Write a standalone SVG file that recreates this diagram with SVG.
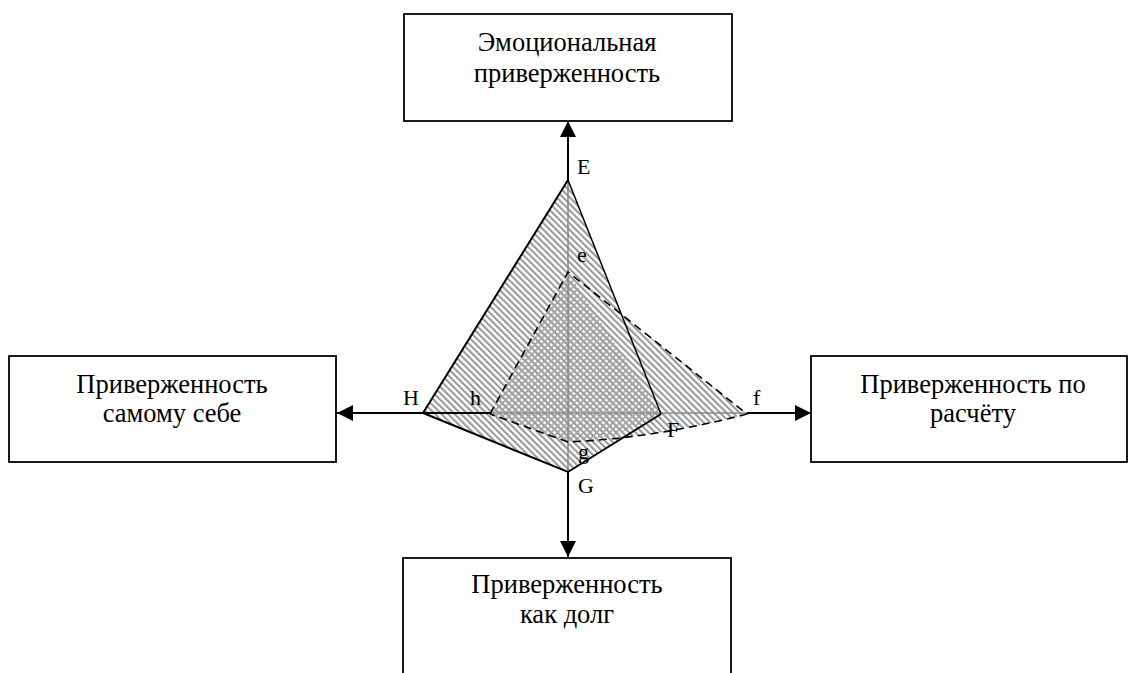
<svg xmlns="http://www.w3.org/2000/svg" width="1129" height="673" viewBox="0 0 1129 673">
<style>
.box{fill:#fff;stroke:#000;stroke-width:1.8}
.t{font-family:"Liberation Serif","DejaVu Serif","Times New Roman",serif;font-size:26.5px;fill:#000;text-anchor:middle}
.lbl{font-family:"Liberation Serif","DejaVu Serif","Times New Roman",serif;font-size:22px;fill:#000}
.ax{stroke:#000;stroke-width:2;fill:none}
.axg{stroke:#8a8a8a;stroke-width:1.6;fill:none}
.edge{stroke:#000;stroke-width:2;fill:none;stroke-linejoin:miter}
.dash{stroke:#000;stroke-width:1.6;fill:none;stroke-dasharray:8 5}
</style>
<defs>
<pattern id="hatchA" patternUnits="userSpaceOnUse" width="4.6" height="4.6" patternTransform="rotate(-45)">
<rect width="4.6" height="4.6" fill="#fff"/>
<rect x="0" y="0" width="2.1" height="4.6" fill="#999"/>
</pattern>
<pattern id="hatchB" patternUnits="userSpaceOnUse" width="4.6" height="4.6" patternTransform="rotate(-45)">
<rect x="0" y="0" width="4.6" height="2" fill="#a0a0a0" fill-opacity="0.85"/>
</pattern>
<marker id="arr" viewBox="0 0 16 16" refX="16" refY="8" markerWidth="16" markerHeight="16" markerUnits="userSpaceOnUse" orient="auto">
<path d="M0,0 L16,8 L0,16 Z" fill="#000"/>
</marker>
</defs>

<g id="node-emotional">
<rect class="box" x="404" y="14" width="328" height="107"/>
<text class="t" x="567" y="51">Эмоциональная</text>
<text class="t" x="567" y="82">приверженность</text>
</g>
<g id="node-self">
<rect class="box" x="9" y="356" width="327" height="106"/>
<text class="t" x="172" y="393">Приверженность</text>
<text class="t" x="172" y="422">самому себе</text>
</g>
<g id="node-calc">
<rect class="box" x="811" y="356" width="316" height="106"/>
<text class="t" x="973" y="393">Приверженность по</text>
<text class="t" x="973" y="422">расчёту</text>
</g>
<g id="node-duty">
<rect class="box" x="403" y="558" width="328" height="130"/>
<text class="t" x="567" y="593">Приверженность</text>
<text class="t" x="567" y="623">как долг</text>
</g>

<g id="chart">
<polygon points="568,180 423,413 568,472 661,414" fill="url(#hatchA)"/>
<path d="M490,414 L568,272 L747,414 Q656,438 568,442 Z" fill="url(#hatchA)"/>
<path d="M568,272 L616,345 L661,414 L614,436 L568,442 L490,414 Z" fill="url(#hatchB)"/>
<line class="axg" x1="568" y1="180" x2="568" y2="472"/>
<line class="axg" x1="490" y1="413" x2="747" y2="413"/>
<path class="edge" d="M661,414 L568,180" style="stroke-width:1.5"/>
<path class="edge" d="M568,180 L423,413 L568,472 L661,414"/>
<path class="dash" d="M490,414 L568,272 L747,414 Q656,438 568,442 L490,414"/>
</g>

<g id="connectors">
<line class="ax" x1="568" y1="180" x2="568" y2="121" marker-end="url(#arr)"/>
<line class="ax" x1="423" y1="413" x2="337" y2="413" marker-end="url(#arr)"/>
<line class="ax" x1="423" y1="413" x2="490" y2="413"/>
<line class="ax" x1="747" y1="413" x2="811" y2="413" marker-end="url(#arr)"/>
<line class="ax" x1="568" y1="472" x2="568" y2="557" marker-end="url(#arr)"/>
</g>

<g id="labels">
<text class="lbl" x="577" y="174">E</text>
<text class="lbl" x="577" y="262">e</text>
<text class="lbl" x="403" y="405">H</text>
<text class="lbl" x="470" y="405">h</text>
<text class="lbl" x="753" y="405">f</text>
<text class="lbl" x="667" y="437">F</text>
<text class="lbl" x="578" y="459">g</text>
<text class="lbl" x="578" y="493">G</text>
</g>
</svg>
